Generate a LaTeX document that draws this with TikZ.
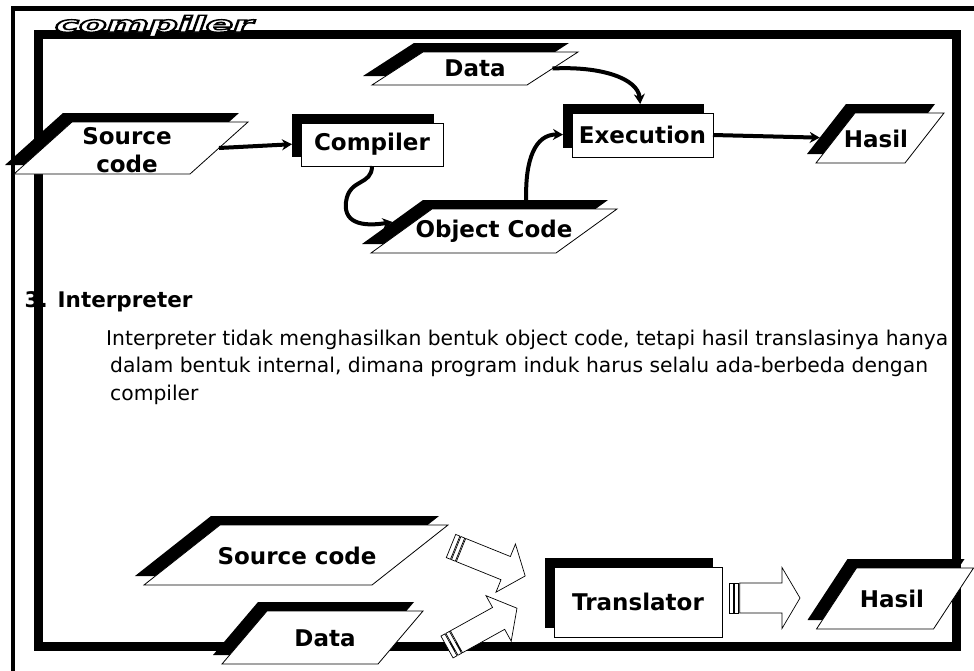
\documentclass[tikz,border=0pt]{standalone}
\usepackage{fontspec}
\usepackage{graphicx}
\setmainfont{DejaVu Sans}
\usetikzlibrary{arrows.meta,calc}

\tikzset{
  shadowfill/.style={fill=black, draw=none},
  card/.style={fill=white, draw=black, line width=0.8pt},
  box/.style n args={2}{shape=rectangle, minimum width=#1,
    minimum height=#2, inner sep=0pt, outer sep=0pt},
  plg/.style n args={3}{box={#1}{#2}, xslant=#3},
  lbl/.style={font=\fontsize{23}{28}\selectfont\bfseries, align=center,
    inner sep=0pt},
  flow/.style={line width=4pt, -{Stealth[length=10pt,width=11pt]}},
  blockline/.style={draw=black, fill=white, line width=0.7pt},
  titletext/.style={anchor=base, inner sep=0pt, text=white,
    font=\fontsize{22}{22}\selectfont\bfseries\itshape},
  bodytext/.style={anchor=base west, inner sep=0pt,
    font=\fontsize{20.3}{24}\selectfont},
}

% striped block arrow: tail (x,y), angle, length, shaft, head width, head length
\newcommand\stripedarrow[7]{%
  \begin{scope}[shift={(#1,#2)}, rotate=#3]
    \path[blockline] (0,-#5/2) rectangle (4.5,#5/2);
    \path[blockline] (5.6,-#5/2) rectangle (9.7,#5/2);
    \path[blockline] (10.8,-#5/2) -- ({#4-#7},-#5/2) -- ({#4-#7},-#6/2)
      -- (#4,0) -- ({#4-#7},#6/2) -- ({#4-#7},#5/2) -- (10.8,#5/2) -- cycle;
  \end{scope}}

% hollow lettering: white fill with a black stroke (text render mode 2)
\newcommand\hollow[1]{%
  \special{pdf:literal direct 2 Tr 1.4 w 0 G}#1\special{pdf:literal direct 0 Tr}}
\newcommand\titleword{\scalebox{1.84}[1]{\hollow{compiler}}}

\begin{document}
\begin{tikzpicture}[x=1pt, y=-1pt]
  \useasboundingbox (0,0) rectangle (974,670);
  \clip (0,0) rectangle (974,670);
  \fill[white] (0,0) rectangle (974,670);

  % section heading and paragraph
  \node[bodytext, font=\fontsize{21.5}{24}\selectfont\bfseries] (head) at (24.4,307) {3. Interpreter};
  \node[bodytext] (para1) at (106,345) {Interpreter tidak menghasilkan bentuk object code, tetapi hasil translasinya hanya};
  \node[bodytext] (para2) at (110,372.5) {dalam bentuk internal, dimana program induk harus selalu ada-berbeda dengan};
  \node[bodytext] (para3) at (110,400) {compiler};

  % frames
  \draw[line width=4.5pt] (13,700) -- (13,8.5) -- (1000,8.5);
  \draw[line width=9pt] (38.5,34.5) rectangle (956.5,646.5);

  % hollow title
  \node[titletext] (title) at (154,32) {\titleword};

  % ---- compiler flow ----
  \node[plg={176}{52}{1.115}, shadowfill] (srcS) at (122,139) {};
  \node[plg={176}{52}{1.115}, card] (src) at (131,148) {};
  \node[lbl] (srcT) at (127,150) {Source\\code};

  \node[box={142}{43}, shadowfill] (compS) at (363,135.5) {};
  \node[box={142}{43}, card, lbl] (comp) at (372,144.5) {Compiler};

  \node[plg={155}{33}{1.545}, shadowfill] (dataS) at (466,59.5) {};
  \node[plg={155}{33}{1.545}, card] (data) at (475,68.5) {};
  \node[lbl] (dataT) at (data.center) {Data};

  \node[plg={185}{44}{1.386}, shadowfill] (objS) at (485,222) {};
  \node[plg={185}{44}{1.386}, card] (obj) at (494,231) {};
  \node[lbl] (objT) at (obj.center) {Object Code};

  \node[box={141}{44}, shadowfill] (execS) at (633.5,126) {};
  \node[box={141}{44}, card, lbl] (exec) at (642.5,135) {Execution};

  \node[plg={89}{50}{0.78}, shadowfill] (hasilS) at (871,129) {};
  \node[plg={89}{50}{0.78}, card] (hasil) at (880,138) {};
  \node[lbl] (hasilT) at (876,139) {Hasil};

  \draw[flow] (src.east) -- (compS.187);
  \draw[flow] (comp.south) .. controls (372,186) and (349,178) .. (346,202)
    .. controls (343,226) and (368,226) .. (objS.west);
  \draw[flow] (objS.64) .. controls (525,160) and (535,134) .. (execS.187);
  \draw[flow] (data.east) .. controls (600,66) and (638,78) .. (execS.73);
  \draw[flow] (exec.east) -- (hasilS.191);

  % ---- interpreter flow ----
  \node[plg={228}{60}{1.267}, shadowfill] (src2S) at (287,546) {};
  \node[plg={228}{60}{1.267}, card] (src2) at (296,555) {};
  \node[lbl] (src2T) at (297,556) {Source code};

  \node[plg={156}{53}{0.849}, shadowfill] (data2S) at (313.5,628.5) {};
  \node[plg={156}{53}{0.849}, card] (data2) at (322.5,637.5) {};
  \node[lbl] (data2T) at (325,638) {Data};

  \node[box={168}{70}, shadowfill] (transS) at (629,593) {};
  \node[box={168}{70}, card, lbl] (trans) at (638,602) {Translator};

  \node[plg={117}{61}{0.656}, shadowfill] (hasil2S) at (886,589.5) {};
  \node[plg={117}{61}{0.656}, card] (hasil2) at (895,598.5) {};
  \node[lbl] (hasil2T) at (892,599) {Hasil};

  \stripedarrow{451}{546}{-22}{80}{25}{52}{21}
  \stripedarrow{447}{647}{29}{80}{25}{52}{21}
  \stripedarrow{729}{598}{0}{71}{30}{61}{18}
\end{tikzpicture}
\end{document}
